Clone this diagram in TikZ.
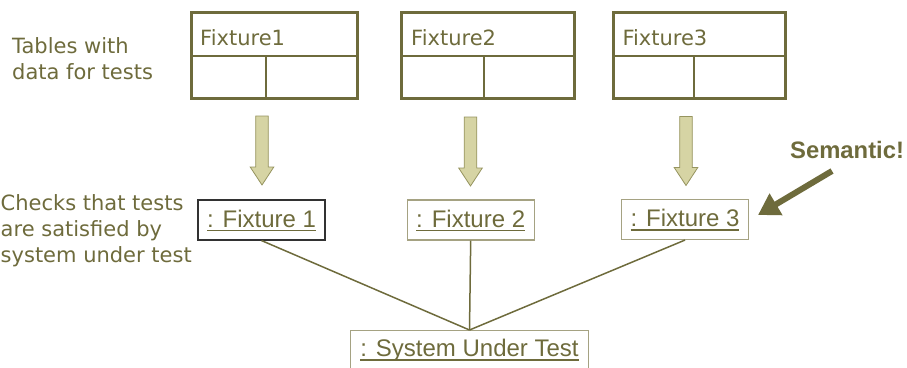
\documentclass[tikz,border=0pt]{standalone}
\usepackage{fontspec}
\setmainfont{DejaVu Sans}
\newfontfamily\arialfont{Liberation Sans}
\usetikzlibrary{arrows.meta}
\definecolor{olive}{RGB}{110,107,60}
\definecolor{khaki}{RGB}{214,212,164}
\definecolor{khakiedge}{RGB}{150,148,95}
\definecolor{boxgray}{RGB}{165,162,130}
\definecolor{darkbox}{RGB}{50,50,50}
\newcommand\ulx[1]{\setbox0\hbox{#1}\rlap{\vrule width\wd0 height -2.8pt depth 4.3pt}\box0}
\tikzset{
  lbl/.style={inner sep=0, align=left, text=olive, font=\fontsize{21}{26}\selectfont},
  tablebox/.style={draw=olive, line width=3, minimum height=86, inner sep=0},
  tablehead/.style={inner sep=0, anchor=base west, text=olive, font=\fontsize{21}{24}\selectfont},
  tableline/.style={draw=olive, line width=1.3},
  objbox/.style={draw=boxgray, line width=1.1, minimum width=127, inner xsep=0, inner ysep=0,
     text height=27pt, text depth=13pt, text=olive, font=\arialfont\fontsize{24}{26}\selectfont},
  conn/.style={draw=olive, line width=1.5},
  blockarrow/.pic={\draw[khakiedge, fill=khaki, line width=0.8]
     (-6.3,0) -- (6.3,0) -- (6.3,51) -- (11.8,51) -- (0,69) -- (-11.8,51) -- (-6.3,51) -- cycle;}
}
\begin{document}
\begin{tikzpicture}[x=1pt, y=-1pt]
\useasboundingbox (0,0) rectangle (907,367);
% left labels
\node[lbl, anchor=west] (tablesLbl) at (12,59) {Tables with\\data for tests};
\node[lbl, anchor=west] (checksLbl) at (0.5,231) {Checks that tests\\are satisfied by\\system under test};
% tables
\node[tablebox, minimum width=166] (t1) at (274.5,55.5) {};
\node[tablebox, minimum width=173] (t2) at (488,55.5) {};
\node[tablebox, minimum width=172] (t3) at (699.5,55.5) {};
\draw[tableline] (191.5,56) -- (357.5,56) (266,56) -- (266,98.5);
\draw[tableline] (401.5,56) -- (574.5,56) (484,56) -- (484,98.5);
\draw[tableline] (613.5,56) -- (785.5,56) (694,56) -- (694,98.5);
\node[tablehead] (t1h) at (200,45.5) {Fixture1};
\node[tablehead] (t2h) at (411,45.5) {Fixture2};
\node[tablehead] (t3h) at (622.3,45.5) {Fixture3};
% block arrows
\pic at (262,116) {blockarrow};
\pic at (470.5,117) {blockarrow};
\pic at (686,116.5) {blockarrow};
% objects
\node[objbox, draw=darkbox] (f1) at (261.5,220) {\ulx{: Fixture 1}};
\node[objbox] (f2) at (470.7,220) {\ulx{: Fixture 2}};
\node[objbox] (f3) at (685,219.5) {\ulx{: Fixture 3}};
\node[objbox, minimum width=237.6, anchor=north, text height=26pt, text depth=30pt] (sut) at (469.5,330) {\ulx{: System Under Test}};
% connectors
\draw[conn] (f1.south) -- (sut.north);
\draw[conn] (f2.south) -- (sut.north);
\draw[conn] (f3.south) -- (sut.north);
% semantic
\node[inner sep=0, anchor=base west, text=olive, font=\arialfont\bfseries\fontsize{23.8}{26}\selectfont] (sem) at (790,158) {Semantic!};
\coordinate (semfrom) at (832,171);
\coordinate (semto) at (758,215);
\draw[olive, line width=6, -{Triangle[length=21pt,width=24pt]}] (semfrom) -- (semto);
\end{tikzpicture}
\end{document}
